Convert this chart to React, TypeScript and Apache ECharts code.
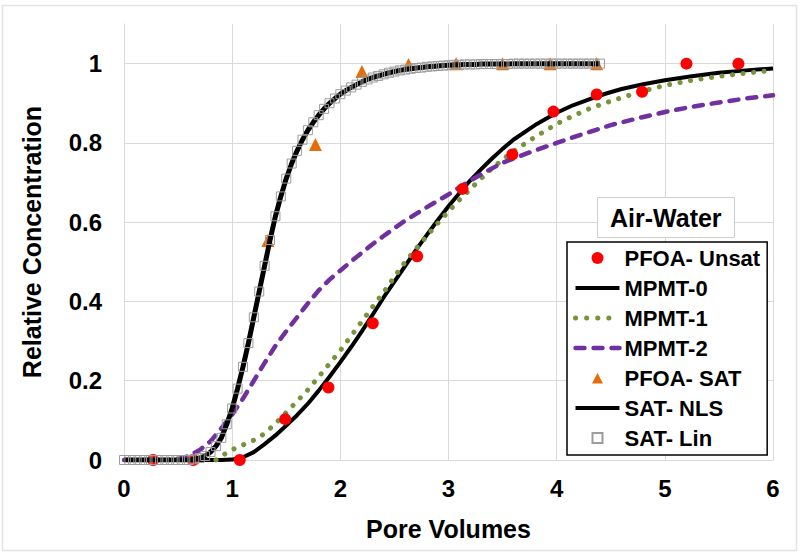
import React, { useEffect, useRef } from "react";
import * as echarts from "echarts";

// ---- data ----
const pfoaUnsat: number[][] = [
  [0.27, 0], [0.64, 0], [1.07, 0], [1.49, 0.103], [1.89, 0.183], [2.3, 0.345],
  [2.71, 0.514], [3.13, 0.684], [3.59, 0.771], [3.97, 0.879], [4.37, 0.922],
  [4.79, 0.929], [5.2, 1.0], [5.68, 1.0],
];

const mpmt0: number[][] = [
  [0, 0], [0.5, 0], [0.9, 0], [1.0, 0.001], [1.1, 0.007], [1.2, 0.02], [1.3, 0.04],
  [1.4, 0.062], [1.5, 0.087], [1.6, 0.113], [1.7, 0.142], [1.8, 0.175], [1.9, 0.21],
  [2.0, 0.247], [2.1, 0.285], [2.2, 0.325], [2.3, 0.367], [2.4, 0.41], [2.5, 0.45],
  [2.6, 0.49], [2.7, 0.53], [2.8, 0.568], [2.9, 0.605], [3.0, 0.64], [3.1, 0.673],
  [3.2, 0.705], [3.3, 0.733], [3.4, 0.76], [3.5, 0.785], [3.6, 0.808], [3.8, 0.845],
  [4.0, 0.876], [4.15, 0.895], [4.3, 0.91], [4.45, 0.924], [4.6, 0.936], [4.8, 0.948],
  [5.0, 0.958], [5.25, 0.968], [5.5, 0.977], [5.75, 0.983], [6.0, 0.988],
];

const mpmt1: number[][] = [
  [0.85, 0], [0.9, 0.01], [1.0, 0.026], [1.1, 0.038], [1.2, 0.05], [1.3, 0.067],
  [1.4, 0.092], [1.5, 0.12], [1.6, 0.148], [1.7, 0.177], [1.8, 0.21], [1.9, 0.243],
  [2.0, 0.276], [2.1, 0.313], [2.2, 0.35], [2.3, 0.387], [2.4, 0.423], [2.5, 0.462],
  [2.6, 0.5], [2.7, 0.533], [2.8, 0.565], [2.9, 0.597], [3.0, 0.627], [3.1, 0.656],
  [3.2, 0.683], [3.3, 0.71], [3.4, 0.735], [3.5, 0.758], [3.6, 0.779], [3.8, 0.815],
  [4.0, 0.848], [4.15, 0.868], [4.3, 0.886], [4.45, 0.901], [4.6, 0.914], [4.8, 0.931],
  [5.0, 0.945], [5.25, 0.958], [5.5, 0.968], [5.75, 0.976], [6.0, 0.983],
];

const mpmt2: number[][] = [
  [0, 0], [0.4, 0], [0.5, 0.003], [0.6, 0.01], [0.7, 0.025], [0.8, 0.047], [0.9, 0.08],
  [1.0, 0.115], [1.1, 0.155], [1.2, 0.2], [1.3, 0.245], [1.4, 0.288], [1.5, 0.325],
  [1.6, 0.36], [1.7, 0.395], [1.8, 0.428], [1.9, 0.455], [2.0, 0.478], [2.1, 0.501],
  [2.2, 0.523], [2.3, 0.545], [2.4, 0.565], [2.5, 0.585], [2.6, 0.604], [2.7, 0.621],
  [2.8, 0.638], [2.9, 0.654], [3.0, 0.67], [3.2, 0.705], [3.35, 0.728], [3.5, 0.75],
  [3.75, 0.776], [4.0, 0.8], [4.25, 0.823], [4.5, 0.845], [4.75, 0.862], [5.0, 0.878],
  [5.25, 0.891], [5.5, 0.902], [5.75, 0.912], [6.0, 0.92],
];

const pfoaSat: number[][] = [
  [0.4, -0.004], [0.88, -0.003], [1.33, 0.554], [1.77, 0.796], [2.2, 0.98],
  [2.63, 0.998], [3.07, 1.0], [3.5, 1.0], [3.94, 1.0], [4.37, 1.0],
];

const satCurve: number[][] = [
  [0, 0], [0.05, 0], [0.1, 0], [0.15, 0], [0.2, 0], [0.25, 0], [0.3, 0], [0.35, 0],
  [0.4, 0], [0.45, 0], [0.5, 0], [0.55, 0], [0.6, 0], [0.65, 0.002], [0.7, 0.005],
  [0.75, 0.01], [0.8, 0.02], [0.85, 0.035], [0.9, 0.056], [0.95, 0.09], [1.0, 0.13],
  [1.05, 0.18], [1.1, 0.235], [1.15, 0.295], [1.2, 0.36], [1.25, 0.425], [1.3, 0.49],
  [1.35, 0.555], [1.4, 0.615], [1.45, 0.665], [1.5, 0.71], [1.55, 0.748], [1.6, 0.78],
  [1.65, 0.808], [1.7, 0.832], [1.75, 0.852], [1.8, 0.87], [1.85, 0.886], [1.9, 0.9],
  [1.95, 0.912], [2.0, 0.923], [2.05, 0.932], [2.1, 0.94], [2.15, 0.947], [2.2, 0.954],
  [2.25, 0.96], [2.3, 0.965], [2.35, 0.969], [2.4, 0.973], [2.45, 0.977], [2.5, 0.98],
  [2.55, 0.983], [2.6, 0.985], [2.65, 0.987], [2.7, 0.989], [2.75, 0.99], [2.8, 0.992],
  [2.85, 0.993], [2.9, 0.994], [2.95, 0.995], [3.0, 0.996], [3.05, 0.997], [3.1, 0.997],
  [3.15, 0.998], [3.2, 0.998], [3.25, 0.998], [3.3, 0.999], [3.35, 0.999], [3.4, 0.999],
  [3.45, 0.999], [3.5, 0.999], [3.55, 0.999], [3.6, 1.0], [3.65, 1.0], [3.7, 1.0],
  [3.75, 1.0], [3.8, 1.0], [3.85, 1.0], [3.9, 1.0], [3.95, 1.0], [4.0, 1.0], [4.05, 1.0],
  [4.1, 1.0], [4.15, 1.0], [4.2, 1.0], [4.25, 1.0], [4.3, 1.0], [4.35, 1.0], [4.4, 1.0],
];

const FONT = "'Liberation Sans', Arial, Helvetica, sans-serif";
const GRID = "#d9d9d9";
const RED = "#ff0000";
const GREEN = "#77933c";
const PURPLE = "#7030a0";
const ORANGE = "#e46c0a";
const SQUARE = "#9c9c9c";

// Legend icons: the first two moves span the whole 44x12 icon box so the
// small marker is kept at its real size in the middle of it.
const ICON_CIRCLE = "path://M0 0M44 12M16 6A6 6 0 1 1 28 6A6 6 0 1 1 16 6Z";
const ICON_TRIANGLE = "path://M0 0M44 12M16.5 11.5L22 1L27.5 11.5Z";
const ICON_SQUARE = "path://M0 0M44 12M17 1L27 1L27 11L17 11Z";

const hiddenSymbol = { opacity: 0 };

export default function App() {
  const ref = useRef<HTMLDivElement>(null);
  useEffect(() => {
    const chart = echarts.init(ref.current!, null, { renderer: "svg" });
    chart.setOption({
      animation: false,
      backgroundColor: "#ffffff",
      textStyle: { fontFamily: FONT },
      grid: { left: 124, right: 27, top: 24, bottom: 96 },
      title: {
        text: "Air-Water",
        left: 597,
        top: 197,
        padding: [8, 13, 8, 13],
        borderColor: "#cfcfcf",
        borderWidth: 1,
        backgroundColor: "#ffffff",
        textStyle: { fontFamily: FONT, fontWeight: "bold", fontSize: 25, color: "#000", lineHeight: 25 },
      },
      legend: {
        data: [
          { name: "PFOA- Unsat", icon: ICON_CIRCLE },
          { name: "MPMT-0", itemStyle: hiddenSymbol, lineStyle: { width: 4, color: "#000" } },
          { name: "MPMT-1", itemStyle: hiddenSymbol, lineStyle: { width: 5, color: GREEN, type: [0.1, 11], cap: "round" } },
          { name: "MPMT-2", itemStyle: hiddenSymbol, lineStyle: { width: 4.5, color: PURPLE, type: [9, 9], cap: "round" } },
          { name: "PFOA- SAT", icon: ICON_TRIANGLE },
          { name: "SAT- NLS", itemStyle: hiddenSymbol, lineStyle: { width: 4, color: "#000" } },
          { name: "SAT- Lin", icon: ICON_SQUARE },
        ],
        orient: "vertical",
        left: 567,
        top: 242,
        padding: [5, 7, 6, 6],
        itemGap: 8,
        itemWidth: 44,
        itemHeight: 12,
        borderColor: "#000",
        borderWidth: 1.5,
        backgroundColor: "#ffffff",
        textStyle: { fontFamily: FONT, fontWeight: "bold", fontSize: 22, color: "#000", lineHeight: 21 },
      },
      xAxis: {
        type: "value",
        min: 0,
        max: 6,
        interval: 1,
        name: "Pore Volumes",
        nameLocation: "middle",
        nameGap: 56,
        nameTextStyle: { fontFamily: FONT, fontWeight: "bold", fontSize: 25, color: "#000" },
        axisLine: { show: true, lineStyle: { color: GRID, width: 1 } },
        axisTick: { show: false },
        axisLabel: { fontFamily: FONT, fontWeight: "bold", fontSize: 24, color: "#000", margin: 16 },
        splitLine: { show: true, lineStyle: { color: GRID, width: 1 } },
      },
      yAxis: {
        type: "value",
        min: 0,
        max: 1.1,
        interval: 0.2,
        name: "Relative Concentration",
        nameLocation: "middle",
        nameGap: 80,
        nameTextStyle: { fontFamily: FONT, fontWeight: "bold", fontSize: 25, color: "#000" },
        axisLine: { show: true, lineStyle: { color: GRID, width: 1 } },
        axisTick: { show: false },
        axisLabel: { fontFamily: FONT, fontWeight: "bold", fontSize: 24, color: "#000", margin: 22, showMaxLabel: false },
        splitLine: { show: true, showMaxLine: false, lineStyle: { color: GRID, width: 1 } },
      },
      graphic: [
        {
          type: "rect",
          silent: true,
          z: 0,
          shape: { x: 2.5, y: 5.5, width: 794, height: 545 },
          style: { fill: "none", stroke: "#e3e3e3", lineWidth: 1.5 },
        },
      ],
      series: [
        {
          name: "PFOA- Unsat",
          type: "scatter",
          data: pfoaUnsat,
          symbol: "circle",
          symbolSize: 12,
          itemStyle: { color: RED, opacity: 1 },
          z: 4,
        },
        {
          name: "MPMT-0",
          type: "line",
          data: mpmt0,
          symbol: "none",
          lineStyle: { color: "#000000", width: 4, join: "round" },
          itemStyle: { color: "#000000" },
          z: 2,
        },
        {
          name: "MPMT-1",
          type: "line",
          data: mpmt1,
          symbol: "none",
          lineStyle: { color: GREEN, width: 5, type: [0.1, 10.5], cap: "round" },
          itemStyle: { color: GREEN },
          z: 3,
        },
        {
          name: "MPMT-2",
          type: "line",
          data: mpmt2,
          symbol: "none",
          lineStyle: { color: PURPLE, width: 4.5, type: [9, 9], cap: "round" },
          itemStyle: { color: PURPLE },
          z: 3,
        },
        {
          name: "PFOA- SAT",
          type: "scatter",
          data: pfoaSat,
          symbol: "triangle",
          symbolSize: 13,
          itemStyle: { color: ORANGE, opacity: 1 },
          z: 4,
        },
        {
          name: "SAT- NLS",
          type: "line",
          data: satCurve,
          symbol: "none",
          lineStyle: { color: "#000000", width: 5, join: "round" },
          itemStyle: { color: "#000000" },
          z: 5,
        },
        {
          name: "SAT- Lin",
          type: "scatter",
          data: satCurve,
          symbol: "rect",
          symbolSize: 9,
          itemStyle: { color: "rgba(255,255,255,0)", borderColor: SQUARE, borderWidth: 1, opacity: 1 },
          z: 6,
        },
      ],
    });
    return () => chart.dispose();
  }, []);
  return (
    <div
      ref={ref}
      style={{ position: "absolute", left: 0, top: 0, width: 800, height: 556 }}
    />
  );
}
